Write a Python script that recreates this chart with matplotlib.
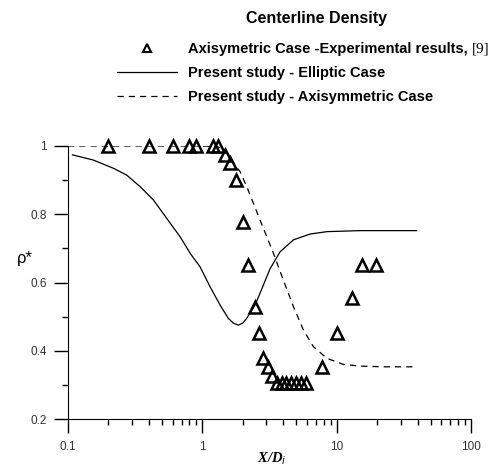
import numpy as np
import matplotlib
matplotlib.use("Agg")
import matplotlib.pyplot as plt
from matplotlib.ticker import FixedLocator, NullFormatter

# experimental points (axisymmetric case, ref [9])
exp_x = [0.2, 0.4, 0.6, 0.8, 0.9, 1.2, 1.3, 1.48, 1.6, 1.78, 2.0, 2.2,
         2.47, 2.64, 2.83, 3.08, 3.3, 3.6, 3.9, 4.2, 4.6, 5.0, 5.4, 5.9,
         7.8, 10.0, 13.0, 15.5, 19.6]
exp_y = [1.0, 1.0, 1.0, 1.0, 1.0, 1.0, 1.0, 0.975, 0.95, 0.90, 0.777, 0.652,
         0.528, 0.452, 0.379, 0.352, 0.326, 0.305, 0.305, 0.305, 0.305, 0.305, 0.305, 0.305,
         0.352, 0.452, 0.555, 0.652, 0.652]

# present study - elliptic case
ell_x = [0.108, 0.154, 0.217, 0.273, 0.344, 0.432, 0.543, 0.683, 0.82, 0.962,
         1.14, 1.355, 1.56, 1.7, 1.855, 2.0, 2.14, 2.47, 2.75, 3.19, 3.79,
         4.77, 6.34, 8.44, 14.9, 39.4]
ell_y = [0.974, 0.959, 0.935, 0.915, 0.881, 0.842, 0.788, 0.734, 0.683, 0.646,
         0.588, 0.534, 0.495, 0.481, 0.475, 0.481, 0.495, 0.534, 0.578, 0.64, 0.69,
         0.725, 0.742, 0.749, 0.752, 0.752]

# present study - axisymmetric case
axi_x = [0.1, 1.0, 1.3, 1.45, 1.6, 1.75, 1.91, 2.14, 2.4, 2.69, 3.02, 3.38, 4.01,
         4.77, 5.65, 6.71, 8.44, 11.2, 14.9, 22.0, 37.2]
axi_y = [1.0, 1.0, 0.998, 0.99, 0.972, 0.944, 0.925, 0.881, 0.832, 0.783, 0.734, 0.686, 0.607,
         0.529, 0.461, 0.412, 0.378, 0.36, 0.355, 0.353, 0.353]

y_ticks = [0.2, 0.4, 0.6, 0.8, 1.0]
y_labels = ["0.2", "0.4", "0.6", "0.8", "1"]
x_ticks = [0.1, 1, 10, 100]
x_labels = ["0.1", "1", "10", "100"]

plt.rcParams['font.family'] = ['Liberation Sans', 'DejaVu Sans']

fig = plt.figure(figsize=(4.94, 4.71), dpi=100)
ax = fig.add_axes([68/494, 1 - 419/471, (471 - 68)/494, (419 - 146)/471])

l_exp, = ax.plot(exp_x, exp_y, linestyle='none', marker='^', markersize=8,
                 markerfacecolor='none', markeredgecolor='black', markeredgewidth=1.8,
                 clip_on=False)
l_ell, = ax.plot(ell_x, ell_y, color='black', linewidth=0.9)
l_axi, = ax.plot(axi_x, axi_y, color='black', linewidth=0.9, dashes=(5, 4))

ax.set_xscale('log')
ax.set_xlim(0.1, 100)
ax.set_ylim(0.2, 1.0)
ax.spines['top'].set_visible(False)
ax.spines['right'].set_visible(False)

ax.set_xticks(x_ticks)
ax.set_xticklabels(x_labels)
ax.set_yticks(y_ticks)
ax.set_yticklabels(y_labels)
ax.yaxis.set_minor_locator(FixedLocator([0.3, 0.5, 0.7, 0.9]))
ax.yaxis.set_minor_formatter(NullFormatter())
ax.tick_params(which='major', direction='out', length=10, width=1, labelsize=8.5,
               labelcolor='#333333')
ax.tick_params(axis='y', which='major', pad=5)
ax.tick_params(axis='x', which='major', pad=6)
ax.tick_params(which='minor', direction='out', length=4.5, width=1)

fig.text(25/494, 1 - 258/471, "ρ*", fontsize=12, ha='center', va='center')
fig.text(272/494, 1 - 459/471, "X/D$_i$", fontsize=10.5, family=['Liberation Serif'],
         style='italic', weight='bold', ha='center', va='center')

fig.text(316/494, 1 - 18/471, "Centerline Density", ha='center', va='center',
         fontsize=11.5, weight='bold')

leg = fig.legend([l_exp, l_ell, l_axi],
                 ["Axisymetric Case -Experimental results, ",
                  "Present study - Elliptic Case",
                  "Present study - Axisymmetric Case"],
                 loc='upper left', bbox_to_anchor=(117/494, 1 - 42/471),
                 frameon=False, prop={'weight': 'bold', 'size': 10.5},
                 handlelength=4.1, handletextpad=0.75, labelspacing=0.68,
                 borderaxespad=0, borderpad=0)
leg.legend_handles[0].set_markersize(5.5)
leg.legend_handles[0].set_markeredgewidth(1.5)

fig.canvas.draw()
t0 = leg.get_texts()[0]
bb = t0.get_window_extent()
inv = fig.transFigure.inverted()
x1, ym = inv.transform((bb.x1, (bb.y0 + bb.y1) / 2))
fig.text(x1, ym, "[9]", family=['Liberation Serif'], fontsize=11, va='center', ha='left')

fig.savefig("out.png", dpi=100)
